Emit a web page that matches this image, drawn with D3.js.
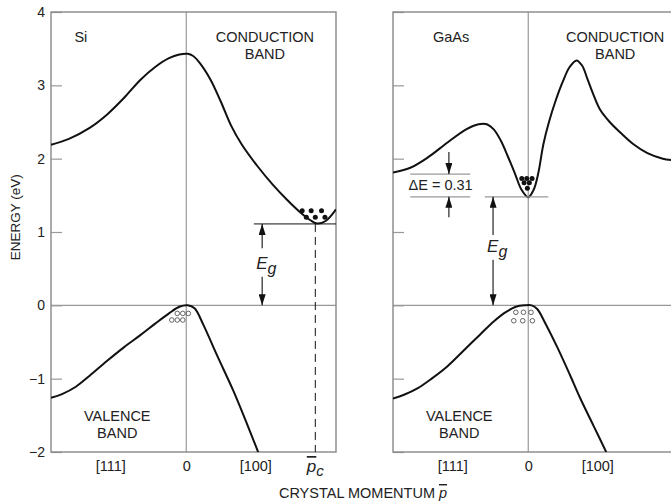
<!DOCTYPE html>
<html>
<head>
<meta charset="utf-8">
<script src="https://cdn.jsdelivr.net/npm/d3@7"></script>
<style>
  body { margin: 0; background: #fff; }
  svg { display: block; font-family: "Liberation Sans", Arial, sans-serif; }
</style>
</head>
<body>
<svg id="chart" width="671" height="501"></svg>
<script>
// ---- data ----
var energyTicks = [-2, -1, 0, 1, 2, 3, 4];
var momentumTickPos = [-1.1, 0, 1.0];
var momentumTickLabels = ["[111]", "0", "[100]"];

// [momentum, energy (eV)]
var siConduction = [[-1.96, 2.19], [-1.7, 2.27], [-1.4, 2.42], [-1.15, 2.6], [-0.9, 2.83], [-0.67, 3.07],
  [-0.45, 3.25], [-0.25, 3.37], [-0.1, 3.42], [0.02, 3.43], [0.1, 3.4], [0.2, 3.3], [0.35, 3.08],
  [0.5, 2.78], [0.65, 2.45], [0.8, 2.2], [1.03, 1.9], [1.25, 1.65], [1.46, 1.44], [1.65, 1.27],
  [1.8, 1.16], [1.9, 1.115], [2.02, 1.15], [2.17, 1.31]];
var siValence = [[-1.96, -1.26], [-1.8, -1.21], [-1.6, -1.11], [-1.4, -0.96], [-1.15, -0.76], [-0.9, -0.57],
  [-0.67, -0.41], [-0.45, -0.25], [-0.25, -0.11], [-0.1, -0.02], [0.02, 0], [0.12, -0.04], [0.25, -0.27],
  [0.45, -0.69], [0.68, -1.16], [0.86, -1.57], [1.05, -2.02]];
var gaasConduction = [[-1.96, 1.81], [-1.7, 1.88], [-1.45, 2.02], [-1.17, 2.22], [-0.9, 2.4], [-0.72, 2.47],
  [-0.6, 2.47], [-0.5, 2.4], [-0.4, 2.25], [-0.3, 2.04], [-0.19, 1.79], [-0.1, 1.58], [0, 1.475],
  [0.08, 1.58], [0.145, 1.8], [0.22, 2.2], [0.3, 2.5], [0.4, 2.8], [0.5, 3.05], [0.6, 3.25], [0.7, 3.34],
  [0.78, 3.27], [0.86, 3.08], [0.95, 2.86], [1.04, 2.67], [1.18, 2.5], [1.33, 2.36], [1.52, 2.2],
  [1.72, 2.08], [1.95, 2.0], [2.17, 1.97]];
var gaasValence = [[-1.96, -1.27], [-1.8, -1.22], [-1.6, -1.13], [-1.4, -1.0], [-1.17, -0.83], [-0.95, -0.63],
  [-0.7, -0.4], [-0.5, -0.22], [-0.32, -0.09], [-0.18, -0.02], [-0.05, 0], [0.05, 0], [0.13, -0.05],
  [0.25, -0.25], [0.42, -0.57], [0.6, -0.94], [0.75, -1.26], [0.95, -1.65], [1.14, -2.02]];

var siElectrons = [[1.68, 1.29], [1.81, 1.29], [1.96, 1.29], [1.74, 1.20], [1.87, 1.20], [2.01, 1.20]];
var siHoles = [[-0.13, -0.11], [-0.05, -0.11], [0.03, -0.11], [-0.21, -0.20], [-0.13, -0.20], [-0.05, -0.20]];
var gaasElectrons = [[-0.094, 1.73], [-0.022, 1.73], [0.055, 1.73], [-0.06, 1.67], [0.016, 1.67], [-0.013, 1.595]];
var gaasHoles = [[-0.18, -0.095], [-0.07, -0.095], [0.04, -0.095], [-0.21, -0.21], [-0.08, -0.21], [0.06, -0.21]];

var siGap = 1.11, siValley = 1.87;
var gaasGap = 1.48, gaasDeltaE = 0.31;

// ---- layout ----
var svg = d3.select("#chart");
var x = d3.scaleLinear().domain([-1.96, 2.17]).range([0, 285]);
var y = d3.scaleLinear().domain([-2, 4]).range([452, 12]);
var W = x.range()[1], gray = "#999", ink = "#111";

svg.append("defs").append("marker")
  .attr("id", "arrow").attr("viewBox", "0 0 11 7")
  .attr("refX", 11).attr("refY", 3.5)
  .attr("markerWidth", 11).attr("markerHeight", 7)
  .attr("markerUnits", "userSpaceOnUse").attr("orient", "auto")
  .append("path").attr("d", "M0,0L11,3.5L0,7Z").attr("fill", ink);

var line = d3.line().x(d => x(d[0])).y(d => y(d[1])).curve(d3.curveCatmullRom.alpha(0.5));

function arrow(g, u, from, to) {
  g.append("line").attr("x1", x(u)).attr("x2", x(u)).attr("y1", y(from)).attr("y2", y(to))
    .attr("stroke", ink).attr("stroke-width", 1.1).attr("marker-end", "url(#arrow)");
}
function egLabel(g, u, e) {
  var t = g.append("text").attr("x", x(u)).attr("y", y(e) + 5).attr("text-anchor", "middle")
    .attr("fill", "#222").attr("font-style", "italic").attr("font-size", 17);
  t.append("tspan").text("E");
  t.append("tspan").attr("dy", 5).attr("font-size", 16).text("g");
}
function dots(g, pts, filled) {
  g.selectAll(null).data(pts).enter().append("circle")
    .attr("cx", d => x(d[0])).attr("cy", d => y(d[1])).attr("r", filled ? 2.5 : 2.3)
    .attr("fill", filled ? ink : "none").attr("stroke", filled ? "none" : "#555").attr("stroke-width", 0.9);
}
function label(g, u, e, lines, anchor) {
  lines.forEach(function (s, i) {
    g.append("text").attr("x", x(u)).attr("y", y(e) + i * 16.5).attr("text-anchor", anchor || "middle")
      .attr("font-size", 14.5).attr("fill", "#222").text(s);
  });
}

function panel(left, id, opts) {
  var g = svg.append("g").attr("transform", "translate(" + left + ",0)");
  g.append("clipPath").attr("id", id).append("rect")
    .attr("x", 0).attr("y", y(4)).attr("width", W).attr("height", y(-2) - y(4));

  // axis lines inside the frame
  g.append("line").attr("x1", 0).attr("x2", W).attr("y1", y(0)).attr("y2", y(0)).attr("stroke", gray).attr("stroke-width", 1.2);
  g.append("line").attr("x1", x(0)).attr("x2", x(0)).attr("y1", y(4)).attr("y2", y(-2)).attr("stroke", gray).attr("stroke-width", 1.2);

  var ax = g.append("g").call(d3.axisLeft(y).tickValues(energyTicks).tickSize(-11).tickPadding(6)
    .tickFormat(opts.tickLabels ? d3.format("d") : ""));
  ax.select(".domain").remove();
  ax.selectAll(".tick line").attr("stroke", gray).attr("stroke-width", 1.2);
  ax.selectAll(".tick text").attr("font-size", 14).attr("fill", "#222").attr("font-family", "Liberation Sans, Arial, sans-serif");

  var bx = g.append("g").attr("transform", "translate(0," + y(-2) + ")")
    .call(d3.axisBottom(x).tickValues(momentumTickPos).tickSize(0).tickPadding(9)
      .tickFormat((d, i) => momentumTickLabels[i]));
  bx.select(".domain").remove();
  bx.selectAll(".tick text").attr("font-size", 14.5).attr("fill", "#222").attr("font-family", "Liberation Sans, Arial, sans-serif");

  g.append("rect").attr("x", 0).attr("y", y(4)).attr("width", W).attr("height", y(-2) - y(4))
    .attr("fill", "none").attr("stroke", "#888").attr("stroke-width", 1.4);

  var c = g.append("g").attr("clip-path", "url(#" + id + ")");
  [opts.cb, opts.vb].forEach(function (d) {
    c.append("path").datum(d).attr("d", line).attr("fill", "none").attr("stroke", ink).attr("stroke-width", 2);
  });
  dots(g, opts.electrons, true);
  dots(g, opts.holes, false);
  return g;
}

// ---- Si ----
var si = panel(51, "clipSi", { tickLabels: true, cb: siConduction, vb: siValence, electrons: siElectrons, holes: siHoles });
si.append("line").attr("x1", x(0.98)).attr("x2", W).attr("y1", y(siGap)).attr("y2", y(siGap)).attr("stroke", ink).attr("stroke-width", 1);
si.append("line").attr("x1", x(siValley)).attr("x2", x(siValley)).attr("y1", y(siGap)).attr("y2", y(-2))
  .attr("stroke", ink).attr("stroke-width", 1).attr("stroke-dasharray", "8,5");
arrow(si, 1.1, 0.78, siGap);
arrow(si, 1.1, 0.39, 0);
egLabel(si, 1.16, 0.57);
label(si, -1.62, 3.59, ["Si"], "start");
label(si, 1.14, 3.59, ["CONDUCTION", "BAND"]);
label(si, -1.0, -1.58, ["VALENCE", "BAND"]);
var pc = si.append("text").attr("x", x(siValley)).attr("y", y(-2) + 20).attr("text-anchor", "middle")
  .attr("fill", "#222").attr("font-style", "italic").attr("font-size", 17);
pc.append("tspan").attr("text-decoration", "overline").text("p");
pc.append("tspan").attr("dy", 4).attr("font-size", 15).text("c");

// ---- GaAs ----
var ga = panel(393, "clipGa", { tickLabels: false, cb: gaasConduction, vb: gaasValence, electrons: gaasElectrons, holes: gaasHoles });
ga.append("line").attr("x1", x(-1.71)).attr("x2", x(-0.84)).attr("y1", y(gaasGap + gaasDeltaE)).attr("y2", y(gaasGap + gaasDeltaE)).attr("stroke", gray).attr("stroke-width", 1.2);
ga.append("line").attr("x1", x(-1.71)).attr("x2", x(-0.84)).attr("y1", y(gaasGap)).attr("y2", y(gaasGap)).attr("stroke", gray).attr("stroke-width", 1.2);
ga.append("line").attr("x1", x(-0.63)).attr("x2", x(0.29)).attr("y1", y(gaasGap)).attr("y2", y(gaasGap)).attr("stroke", gray).attr("stroke-width", 1.2);
arrow(ga, -1.15, 2.09, gaasGap + gaasDeltaE);
arrow(ga, -1.15, 1.2, gaasGap);
ga.append("text").attr("x", x(-1.27)).attr("y", y(gaasGap + gaasDeltaE / 2) + 5).attr("text-anchor", "middle")
  .attr("font-size", 14.5).attr("fill", "#222").text("\u0394E = " + gaasDeltaE);
arrow(ga, -0.51, 0.96, gaasGap);
arrow(ga, -0.51, 0.62, 0);
egLabel(ga, -0.45, 0.79);
label(ga, -1.38, 3.59, ["GaAs"], "start");
label(ga, 1.26, 3.59, ["CONDUCTION", "BAND"]);
label(ga, -1.0, -1.58, ["VALENCE", "BAND"]);

// ---- axis titles ----
svg.append("text").attr("transform", "translate(20," + y(1.2) + ") rotate(-90)").attr("text-anchor", "middle")
  .attr("font-size", 13.5).attr("fill", "#222").text("ENERGY (eV)");
var xt = svg.append("text").attr("x", 363).attr("y", 498).attr("text-anchor", "middle").attr("font-size", 14.5).attr("fill", "#222");
xt.append("tspan").text("CRYSTAL MOMENTUM ");
xt.append("tspan").attr("font-style", "italic").attr("text-decoration", "overline").text("p");
</script>
</body>
</html>
